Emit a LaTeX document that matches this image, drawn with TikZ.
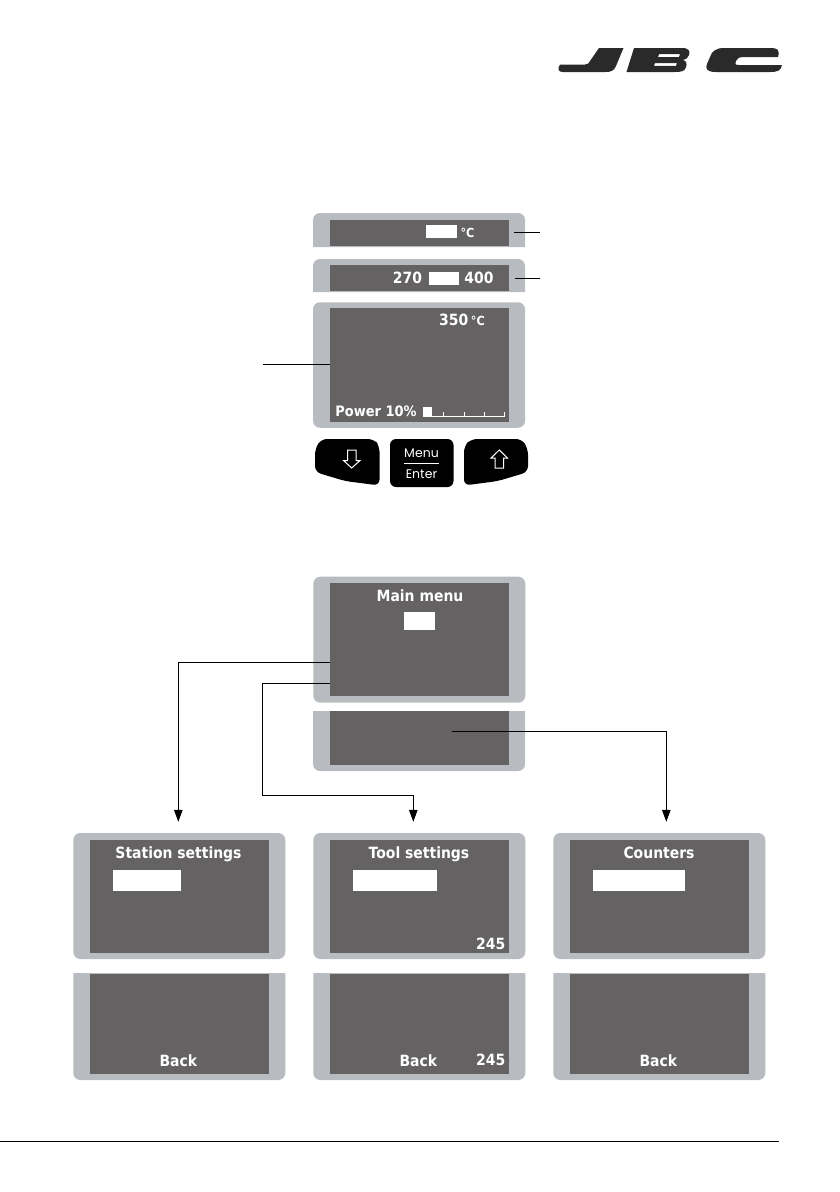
\documentclass[tikz,border=0pt]{standalone}
\usepackage{fontspec}
\setmainfont{Poppins}
\newfontfamily\lcdfont[FakeStretch=0.9]{DejaVu Sans}
\usetikzlibrary{ arrows.meta,   % For the narrow arrow tips
               }
\definecolor{lcdgrey}{HTML}{656263}
\definecolor{casegrey}{HTML}{B8BBBF}
\definecolor{logogrey}{HTML}{2B2A2B}
\tikzstyle{casing} = [rectangle, fill=casegrey, rounded corners=7pt, inner sep=0pt]
\tikzstyle{lcd} = [rectangle, fill=lcdgrey, inner sep=0pt]
\tikzstyle{block} = [rectangle, fill=white, inner sep=0pt]
\tikzstyle{lcdtext} = [text=white, inner sep=0pt, anchor=base, font=\lcdfont\bfseries\fontsize{15.5}{15.5}\selectfont]
\tikzstyle{keytext} = [text=white, inner sep=0pt, font=\fontsize{12.5}{12.5}\selectfont]
\tikzstyle{keyface} = [fill=black, rounded corners=6pt]
\tikzstyle{keyarrow} = [draw=white, line width=1pt, line join=miter]
\tikzstyle{leader} = [draw=black, line width=1pt]
\tikzstyle{flow} = [leader, -{Triangle[width=8.5pt,length=12pt]}]

\begin{document}
\begin{tikzpicture}[x=1pt, y=-1pt]
  \useasboundingbox (0,0) rectangle (840,1192);

  % logo
  \fill [logogrey] (599,48) -- (623.5,48) -- (616,66) .. controls (614,71) and (611,72) .. (605,72)
    -- (563,72) .. controls (558,72) and (557,69) .. (560,64.5) -- (585,64.5)
    .. controls (588,64.5) and (589,63) .. (590,61) -- cycle;
  \fill [logogrey, even odd rule] (634,48) -- (682,48) .. controls (690,48) and (690,52) .. (689,55)
    .. controls (688,58) and (686,59.5) .. (683,60) .. controls (687,61) and (687,64) .. (686,67)
    .. controls (685,71) and (682,72) .. (675,72) -- (626.5,72) -- cycle
    (659,54.2) -- (680,54.2) -- (679,57) -- (658,57) -- cycle
    (655,63) -- (677,63) -- (676,65.8) -- (654,65.8) -- cycle;
  \fill [logogrey] (724,48) -- (770,48) .. controls (778,48) and (780,50) .. (778,57)
    -- (745,57) .. controls (739,57) and (737,58) .. (736,61) .. controls (735,64) and (735,65) .. (739,65)
    -- (782,65) .. controls (781,71) and (777,72) .. (770,72) -- (716,72)
    .. controls (707,72) and (705,69) .. (707,64) -- (710,57) .. controls (712,51) and (716,48) .. (724,48) -- cycle;

  % upper display
  \fill [casegrey] (313,247) [rounded corners=7pt] -- (313,213) -- (525,213) [sharp corners] -- (525,247) -- cycle;
  \node (lcdtemp) [lcd, minimum width=179pt, minimum height=26pt] at (419.5,233) {};
  \node (blocktemp) [block, minimum width=31pt, minimum height=13pt] at (441.5,231.5) {};
  \node (unittemp) [lcdtext, font=\lcdfont\bfseries\fontsize{12.5}{12.5}\selectfont] at (467.5,237) {°C};

  \fill [casegrey] (313,292) [rounded corners=7pt] -- (313,259) -- (525,259) [sharp corners] -- (525,292) -- cycle;
  \node (lcdlimits) [lcd, minimum width=179pt, minimum height=26pt] at (419.5,278) {};
  \node (blocklimits) [block, minimum width=30pt, minimum height=13pt] at (444.2,278) {};
  \node (limitlow) [lcdtext] at (407.5,283) {270};
  \node (limithigh) [lcdtext] at (479,283) {400};

  \node (casework) [casing, minimum width=212pt, minimum height=125.5pt] at (419,365) {};
  \node (lcdwork) [lcd, minimum width=179pt, minimum height=114pt] at (419.5,364.7) {};
  \node (worktemp) [lcdtext] at (462,325.7) {350\,{\fontsize{12.5}{12.5}\selectfont °C}};
  \node (workpower) [lcdtext, font=\lcdfont\bfseries\fontsize{14.4}{14.4}\selectfont] at (376,416.5) {Power 10\%};
  \node (powerblock) [block, minimum width=8.5pt, minimum height=10pt] at (427.5,411.7) {};
  \draw [white, line width=0.7pt] (431,416.5) -- (504,416.5);
  \foreach \tickx in {443.5,464,484,504}
    \draw [white, line width=0.7pt] (\tickx,416.5) -- (\tickx,411.5);

  % leaders of the upper display
  \coordinate (tempnote) at (540,232);
  \coordinate (limitsnote) at (540,278);
  \coordinate (worknote) at (263,365);
  \draw [leader] ([xshift=5pt,yshift=1pt]lcdtemp.east) -- (tempnote);
  \draw [leader] ([xshift=6pt]lcdlimits.east) -- (limitsnote);
  \draw [leader] (lcdwork.west) -- (worknote |- lcdwork.west);

  % keys
  \fill [keyface] (321,439) -- (374,439) -- (379.5,446) -- (379.5,485.5) -- (345,481) -- (315,472) -- (315,449) -- cycle;
  \fill [keyface] (390,439) -- (453.5,439) -- (453.5,487) -- (390,487) -- cycle;
  \fill [keyface] (471,439) -- (522,439) -- (528,449) -- (528,472) -- (498,481) -- (464,485.5) -- (464,446) -- cycle;
  \draw [keyarrow] (347.5,450) -- (356,450) -- (356,460.5) -- (360,460.5) -- (351.7,468) -- (343.5,460.5) -- (347.5,460.5) -- cycle;
  \draw [keyarrow] (495,468) -- (503.5,468) -- (503.5,458) -- (507.5,458) -- (499.3,450) -- (491,458) -- (495,458) -- cycle;
  \node (keymenu) [keytext] at (421.5,453.5) {Menu};
  \node (keyenter) [keytext] at (421.5,474) {Enter};
  \draw [white, line width=0.7pt] (keymenu.south west |- 0,463.3) -- (keymenu.south east |- 0,463.3);

  % main menu
  \node (casemain) [casing, minimum width=212pt, minimum height=126pt] at (419.3,639.7) {};
  \node (lcdmain) [lcd, minimum width=179pt, minimum height=113.5pt] at (419.5,639.5) {};
  \node (titlemain) [lcdtext] at (420,601) {Main menu};
  \node (blockmain) [block, minimum width=31pt, minimum height=18pt] at (419.5,621.2) {};

  \fill [casegrey] (313,711) [rounded corners=7pt] -- (313,771) -- (525,771) [sharp corners] -- (525,711) -- cycle;
  \node (lcdsoft) [lcd, minimum width=179pt, minimum height=54pt] at (419.5,738) {};

  % three sub menus
  \foreach \name/\cx in {station/179.3, tool/419.3, counters/659.3} {
    \node (case\name) [casing, minimum width=212pt, minimum height=126pt] at (\cx,896) {};
    \node (lcd\name) [lcd, minimum width=179pt, minimum height=113pt] at (\cx+0.2,896.5) {};
    \fill [casegrey] (\cx-106,973) -- (\cx+106,973) [rounded corners=7pt] -- (\cx+106,1080) -- (\cx-106,1080) [sharp corners] -- cycle;
    \node (soft\name) [lcd, minimum width=179pt, minimum height=100pt] at (\cx+0.2,1024) {};
    \node (back\name) [lcdtext] at (\cx-1,1066.5) {Back};
  }
  \node (titlestation) [lcdtext] at (178.5,858.5) {Station settings};
  \node (titletool) [lcdtext] at (419,858.5) {Tool settings};
  \node (titlecounters) [lcdtext] at (659,858.5) {Counters};
  \node (blockstation) [block, minimum width=68.5pt, minimum height=21pt] at (146.8,880.5) {};
  \node (blocktool) [block, minimum width=84.5pt, minimum height=21pt] at (394.8,880.5) {};
  \node (blockcounters) [block, minimum width=92pt, minimum height=21pt] at (639,880.5) {};
  \node (valuetool) [lcdtext, anchor=base east] at (505.5,949) {245};
  \node (valuesoft) [lcdtext, anchor=base east] at (505.5,1065) {245};

  % connectors
  \coordinate (softout) at (451.7,731);
  \coordinate (toolbend) at (262.5,795);
  \draw [flow] ([yshift=-23pt]lcdmain.west) -| ([xshift=-1pt,yshift=11pt]casestation.north);
  \draw [flow] ([yshift=-44pt]lcdmain.west) -| (toolbend) -| ([xshift=-6pt,yshift=11pt]casetool.north);
  \draw [flow] (softout) -| ([xshift=7pt,yshift=11pt]casecounters.north);

  % foot rule
  \coordinate (ruleleft) at (0,1141.3);
  \coordinate (ruleright) at (779,1141.3);
  \draw [leader] (ruleleft) -- (ruleright);
\end{tikzpicture}
\end{document}
